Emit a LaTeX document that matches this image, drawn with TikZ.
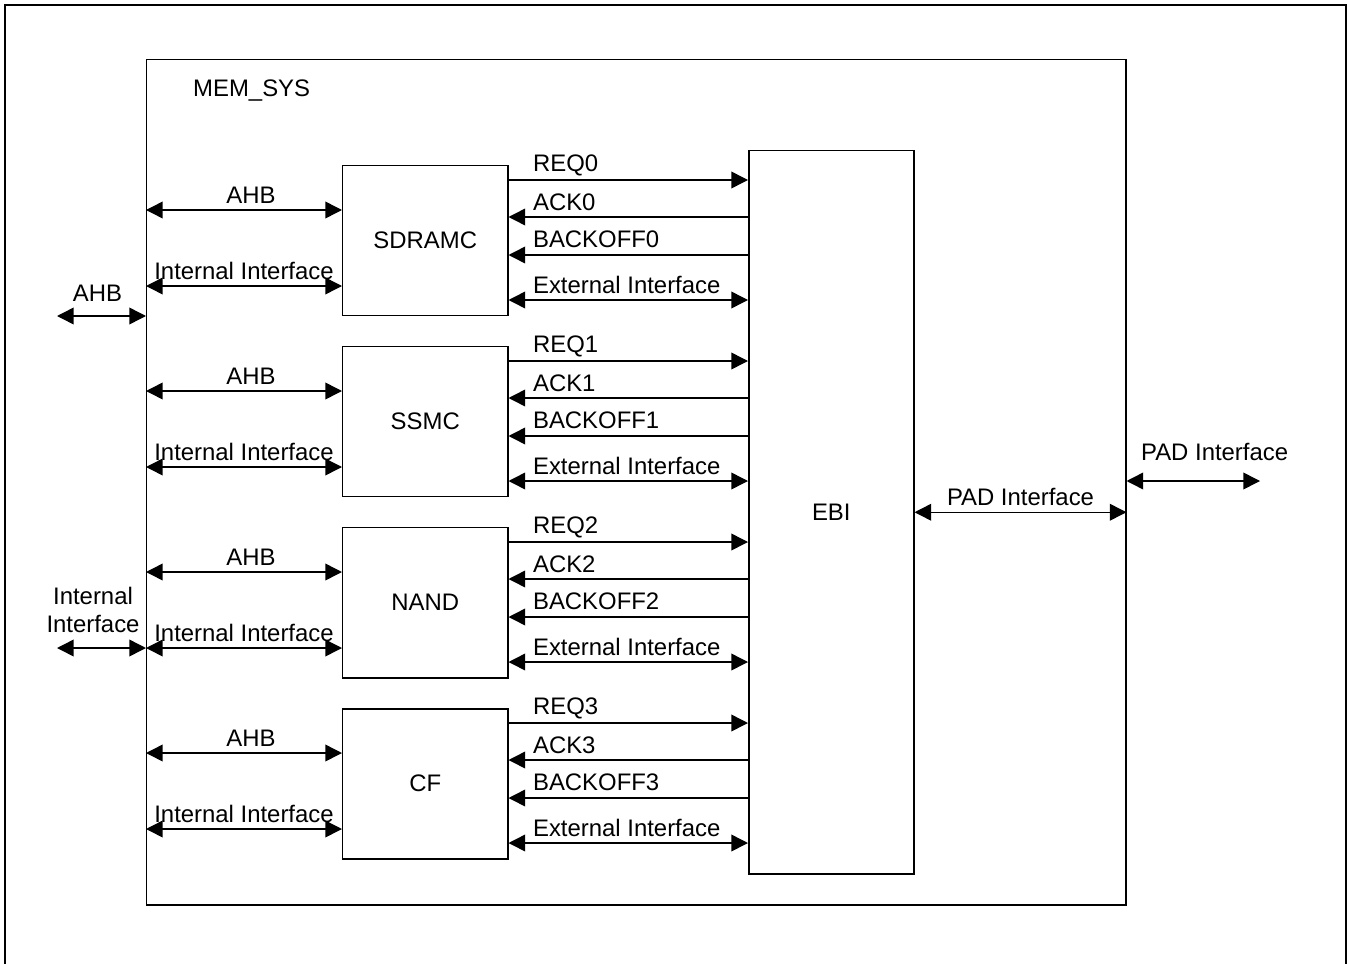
\documentclass[tikz,border=0pt]{standalone}
\usepackage{fontspec}
\setmainfont{Liberation Sans}
\usetikzlibrary{arrows.meta}

\begin{document}
\begin{tikzpicture}[
        font=\fontsize{13.6pt}{15.9pt}\selectfont,
        >={Triangle[length=9.5pt,width=9.5pt]},
        sig/.style={line width=0.85pt},
        blockbox/.style={draw, line width=0.85pt, minimum width=3.3cm, minimum height=3cm, anchor=north west},
        siglabel/.style={pos=0, anchor=south west, xshift=0.36cm}
    ]
        % Page and outer frame (open at the bottom)
        \useasboundingbox (0,0) rectangle (27,-19.26);
        \draw[line width=1.5pt] (0.1,-19.5) -- (0.1,-0.1) -- (26.92,-0.1) -- (26.92,-19.5);

        % MEM_SYS boundary
        \node[draw, sig, minimum width=19.58cm, minimum height=16.9cm, anchor=north west, inner sep=0pt] (mem) at (2.92,-1.18) {};
        \node[anchor=west] (memlbl) at (3.74,-1.82) {MEM\_SYS};

        % EBI
        \node[blockbox, minimum height=14.46cm] (ebi) at (14.96,-3.0) {EBI};

        % Controllers with their buses and handshake lines
        \foreach \name/\txt/\top/\k in {sdr/SDRAMC/3.3/0, ssmc/SSMC/6.92/1, nand/NAND/10.54/2, cf/CF/14.16/3} {
                \node[blockbox] (\name) at (6.84,-\top) {\txt};

                % bus side
                \coordinate (\name-ahb) at ([yshift=-0.9cm]\name.north west);
                \coordinate (\name-int) at ([yshift=-2.42cm]\name.north west);
                \draw[sig, <->] (mem.west |- \name-ahb) -- node[above, xshift=0.14cm] {AHB} (\name-ahb);
                \draw[sig, <->] (mem.west |- \name-int) -- node[above] {Internal Interface} (\name-int);

                % EBI side
                \coordinate (\name-req) at ([yshift=-0.3cm]\name.north east);
                \coordinate (\name-ack) at ([yshift=-1.04cm]\name.north east);
                \coordinate (\name-bo) at ([yshift=-1.8cm]\name.north east);
                \coordinate (\name-ext) at ([yshift=-2.7cm]\name.north east);
                \draw[sig, ->] (\name-req) -- node[siglabel, yshift=-0.05cm] {REQ\k} (ebi.west |- \name-req);
                \draw[sig, <-] (\name-ack) -- node[siglabel] {ACK\k} (ebi.west |- \name-ack);
                \draw[sig, <-] (\name-bo) -- node[siglabel, yshift=0.02cm] {BACKOFF\k} (ebi.west |- \name-bo);
                \draw[sig, <->] (\name-ext) -- node[siglabel] {External Interface} (ebi.west |- \name-ext);
            }

        % External ports on the left
        \coordinate (ahbend) at (1.14,-6.32);
        \coordinate (intend) at (1.14,-12.96);
        \draw[sig, <->] (ahbend) -- node[above, yshift=0.15cm, xshift=-0.08cm] {AHB} (ahbend -| mem.west);
        \draw[sig, <->] (intend) -- node[above, align=center, yshift=0.17cm, xshift=-0.17cm] {Internal\\Interface} (intend -| mem.west);

        % PAD interface
        \coordinate (padend) at (25.2,-9.62);
        \draw[sig, <->] (ebi.east) -- node[above] {PAD Interface} (ebi.east -| mem.east);
        \draw[sig, <->] (padend -| mem.east) -- node[pos=0, anchor=south west, xshift=0.16cm, yshift=0.27cm] {PAD Interface} (padend);

    \end{tikzpicture}
\end{document}
